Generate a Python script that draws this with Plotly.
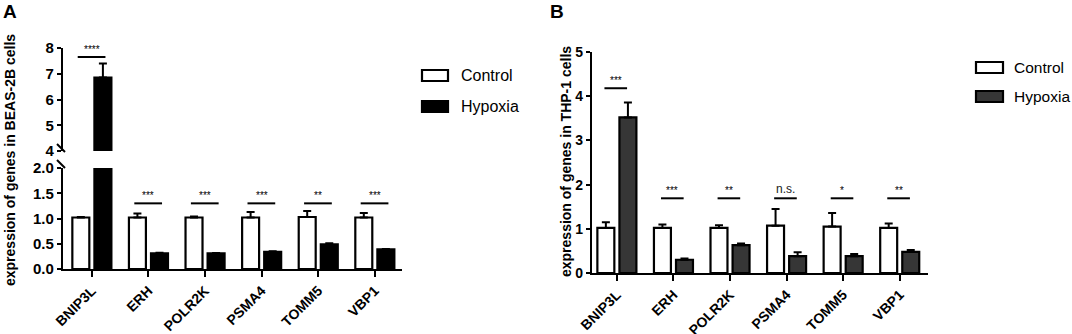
import plotly.graph_objects as go

W, H = 1072, 334

genes = ["BNIP3L", "ERH", "POLR2K", "PSMA4", "TOMM5", "VBP1"]

# Panel A (BEAS-2B)
a_control = [1.02, 1.02, 1.02, 1.02, 1.03, 1.02]
a_control_err = [0.01, 0.08, 0.02, 0.11, 0.12, 0.09]
a_hypoxia = [6.85, 0.31, 0.31, 0.34, 0.49, 0.39]
a_hypoxia_err = [0.55, 0.01, 0.005, 0.01, 0.02, 0.005]
a_sig = ["****", "***", "***", "***", "**", "***"]
a_sig_y = [7.65, 1.30, 1.30, 1.30, 1.30, 1.30]

# Panel B (THP-1)
b_control = [1.02, 1.02, 1.02, 1.07, 1.05, 1.02]
b_control_err = [0.13, 0.08, 0.06, 0.38, 0.31, 0.10]
b_hypoxia = [3.52, 0.30, 0.63, 0.38, 0.38, 0.48]
b_hypoxia_err = [0.34, 0.03, 0.04, 0.09, 0.05, 0.04]
b_sig = ["***", "***", "**", "n.s.", "*", "**"]
b_sig_y = [4.18, 1.69, 1.69, 1.69, 1.69, 1.69]

FONT = "Liberation Sans, Arial, sans-serif"


def px(x):
    return x / W


def py(y):
    return 1 - y / H


fig = go.Figure()

BW = 0.30
OFF_C = -0.345
OFF_H = 0.045


def add_pair(ctrl, ctrl_err, hyp, hyp_err, hyp_color, xa, ya):
    fig.add_trace(go.Bar(
        x=genes, y=ctrl, width=BW, offset=OFF_C,
        marker=dict(color="white", line=dict(color="black", width=2.2)),
        error_y=dict(type="data", array=ctrl_err, arrayminus=[0] * len(ctrl),
                     symmetric=False, color="black", thickness=2, width=4),
        xaxis=xa, yaxis=ya, showlegend=False, name="Control"))
    fig.add_trace(go.Bar(
        x=genes, y=hyp, width=BW, offset=OFF_H,
        marker=dict(color=hyp_color, line=dict(color="black", width=2.2)),
        error_y=dict(type="data", array=hyp_err, arrayminus=[0] * len(hyp),
                     symmetric=False, color="black", thickness=2, width=4),
        xaxis=xa, yaxis=ya, showlegend=False, name="Hypoxia"))


# Panel A bottom (0-2) and top (4-8) segments of the broken axis
add_pair(a_control, a_control_err, a_hypoxia, a_hypoxia_err, "black", "x", "y")
add_pair(a_control, a_control_err, a_hypoxia, a_hypoxia_err, "black", "x2", "y2")
# Panel B
add_pair(b_control, b_control_err, b_hypoxia, b_hypoxia_err, "#363636", "x3", "y3")

axis_common = dict(showgrid=False, zeroline=False, showline=True,
                   linecolor="black", linewidth=2.2, ticks="outside",
                   tickcolor="black", tickwidth=2, automargin=False)

catfont = dict(family=FONT, size=14, color="black", weight="bold")

fig.update_layout(
    template="none",
    width=W, height=H,
    margin=dict(l=0, r=0, t=0, b=0, autoexpand=False),
    paper_bgcolor="white", plot_bgcolor="white",
    barmode="overlay",
    xaxis=dict(domain=[px(63), px(402)], anchor="y", type="category",
               range=[-0.51, 5.48], tickangle=-45, ticklen=6,
               tickfont=catfont, **axis_common),
    yaxis=dict(domain=[py(269), py(168)], anchor="x", range=[0, 2],
               tickvals=[0, 0.5, 1, 1.5, 2], tickformat=".1f", ticklen=4,
               tickfont=dict(family=FONT, size=15, color="black", weight="bold"),
               **axis_common),
    xaxis2=dict(domain=[px(63), px(402)], anchor="y2", type="category",
                range=[-0.51, 5.48], visible=False, matches="x", automargin=False),
    yaxis2=dict(domain=[py(151), py(48)], anchor="x2", range=[4, 8],
                tickvals=[4, 5, 6, 7, 8], ticklen=4,
                tickfont=dict(family=FONT, size=15, color="black", weight="bold"),
                **axis_common),
    xaxis3=dict(domain=[px(592), px(928)], anchor="y3", type="category",
                range=[-0.44, 5.50], tickangle=-45, ticklen=6,
                tickfont=catfont, **axis_common),
    yaxis3=dict(domain=[py(273), py(52)], anchor="x3", range=[0, 5],
                tickvals=[0, 1, 2, 3, 4, 5], ticklen=4,
                tickfont=dict(family=FONT, size=14, color="black", weight="bold"),
                **axis_common),
)

shapes = []
annotations = []

# significance bars and labels, panel A
for i, (s, yv) in enumerate(zip(a_sig, a_sig_y)):
    xa, ya = ("x2", "y2") if yv > 2 else ("x", "y")
    shapes.append(dict(type="line", xref=xa, yref=ya, x0=i - 0.25, x1=i + 0.24,
                       y0=yv, y1=yv, line=dict(color="black", width=2)))
    annotations.append(dict(xref=xa, yref=ya, x=i, y=yv, text=s, showarrow=False,
                            yanchor="bottom", xanchor="center",
                            font=dict(family=FONT, size=10, color="black")))

# significance bars and labels, panel B
for i, (s, yv) in enumerate(zip(b_sig, b_sig_y)):
    shapes.append(dict(type="line", xref="x3", yref="y3", x0=i - 0.22, x1=i + 0.18,
                       y0=yv, y1=yv, line=dict(color="black", width=2)))
    ns = s == "n.s."
    annotations.append(dict(xref="x3", yref="y3", x=i - 0.02, y=yv, text=s,
                            showarrow=False, yanchor="bottom", xanchor="center",
                            font=dict(family=FONT, size=12 if ns else 10,
                                      color="#222" if ns else "black")))

# break marks on panel A y-axis
for yc in (148, 164):
    shapes.append(dict(type="line", xref="paper", yref="paper",
                       x0=px(57), y0=py(yc - 4), x1=px(65), y1=py(yc + 4),
                       line=dict(color="black", width=2)))

# legends (drawn as boxes + labels)
legend_specs = [
    (422, 448, 459, 16, [(70, 81, "white", "Control"), (101, 112, "black", "Hypoxia")]),
    (976, 1003, 1012, 15.5, [(62, 73, "white", "Control"), (91, 102, "#363636", "Hypoxia")]),
]
for x0, x1, xt, fs, items in legend_specs:
    for y0, y1, fill, label in items:
        shapes.append(dict(type="rect", xref="paper", yref="paper",
                           x0=px(x0), x1=px(x1), y0=py(y1), y1=py(y0),
                           fillcolor=fill, line=dict(color="black", width=2.2)))
        annotations.append(dict(xref="paper", yref="paper", x=px(xt),
                                y=py((y0 + y1) / 2), text=label, showarrow=False,
                                xanchor="left", yanchor="middle",
                                font=dict(family=FONT, size=fs, color="black")))

# axis titles
annotations.append(dict(xref="paper", yref="paper", x=px(10), y=py(160),
                        text="expression of genes in BEAS-2B cells", textangle=-90,
                        showarrow=False, xanchor="center", yanchor="middle",
                        font=dict(family=FONT, size=14, color="black", weight="bold")))
annotations.append(dict(xref="paper", yref="paper", x=px(566), y=py(162),
                        text="expression of genes in THP-1 cells", textangle=-90,
                        showarrow=False, xanchor="center", yanchor="middle",
                        font=dict(family=FONT, size=14, color="black", weight="bold")))

# panel letters
annotations.append(dict(xref="paper", yref="paper", x=px(10), y=py(12), text="A",
                        showarrow=False, xanchor="center", yanchor="middle",
                        font=dict(family=FONT, size=19, color="black", weight="bold")))
annotations.append(dict(xref="paper", yref="paper", x=px(557), y=py(12), text="B",
                        showarrow=False, xanchor="center", yanchor="middle",
                        font=dict(family=FONT, size=19, color="black", weight="bold")))

fig.update_layout(shapes=shapes, annotations=annotations)

fig.write_html("out.html",
               config={"displayModeBar": False},
               post_script="document.body.style.margin='0';"
                           "document.body.style.overflow='hidden';")
